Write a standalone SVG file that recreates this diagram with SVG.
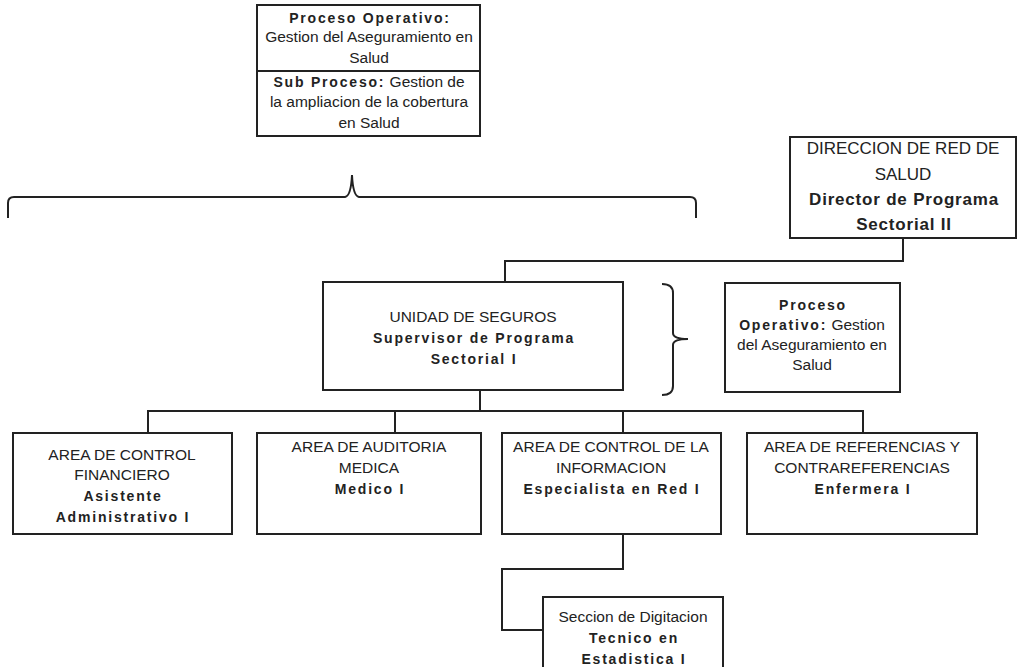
<svg xmlns="http://www.w3.org/2000/svg" width="1018" height="667" viewBox="0 0 1018 667">
<style>
  .box { fill: #ffffff; stroke: #222222; stroke-width: 2; }
  .ln { fill: none; stroke: #222222; stroke-width: 2; }
  text { font-family: "Liberation Sans", Arial, sans-serif; fill: #222222; text-anchor: middle; }
  .r { font-size: 15.5px; }
  .b { font-size: 14px; font-weight: bold; letter-spacing: 1.8px; }
  .bt { font-weight: bold; letter-spacing: 1.8px; font-size: 14px; }
  .dr { font-size: 17px; }
  .db { font-size: 17px; font-weight: bold; letter-spacing: 0.8px; }
</style>
<rect width="1018" height="667" fill="#ffffff"/>

<g id="connectors">
  <!-- big brace under top box -->
  <path class="ln" d="M8,218 L8,203 Q8,197 14,197 L345,197 Q351,196 352,175 Q353,196 359,197 L690,197 Q696,197 696,203 L696,218"/>
  <!-- right brace next to unit -->
  <path class="ln" d="M662,284 Q673,284 673,293 L673,333 Q673,339 688,339 Q673,339 673,345 L673,386 Q673,395 662,395"/>
  <!-- director to unit -->
  <polyline class="ln" points="903,238 903,261 505,261 505,282"/>
  <!-- unit to bus -->
  <polyline class="ln" points="480,390 480,411"/>
  <polyline class="ln" points="148,433 148,411 863,411 863,433"/>
  <line class="ln" x1="395" y1="411" x2="395" y2="433"/>
  <line class="ln" x1="623" y1="411" x2="623" y2="433"/>
  <!-- info to digitacion -->
  <polyline class="ln" points="623,534 623,569 502,569 502,630 543,630"/>
</g>

<g id="proceso-top">
  <rect class="box" x="257" y="5" width="223" height="131"/>
  <line class="ln" x1="257" y1="71" x2="480" y2="71"/>
  <text x="370" y="23" class="b">Proceso Operativo:</text>
  <text x="369" y="42" class="r">Gestion del Aseguramiento en</text>
  <text x="369" y="63" class="r">Salud</text>
  <text x="369" y="87" class="r"><tspan class="bt">Sub Proceso:</tspan> Gestion de</text>
  <text x="369" y="107" class="r">la ampliacion de la cobertura</text>
  <text x="369" y="128" class="r">en Salud</text>
</g>

<g id="direccion">
  <rect class="box" x="790" y="137" width="226" height="101"/>
  <text x="903" y="154" class="dr">DIRECCION DE RED DE</text>
  <text x="903" y="180" class="dr">SALUD</text>
  <text x="904" y="205" class="db">Director de Programa</text>
  <text x="904" y="230" class="db">Sectorial II</text>
</g>

<g id="unidad">
  <rect class="box" x="323" y="282" width="300" height="108"/>
  <text x="473" y="322" class="r">UNIDAD DE SEGUROS</text>
  <text x="474" y="343" class="b">Supervisor de Programa</text>
  <text x="474" y="364" class="b">Sectorial I</text>
</g>

<g id="proceso-lateral">
  <rect class="box" x="725" y="283" width="175" height="109"/>
  <text x="813" y="310" class="b">Proceso</text>
  <text x="812" y="330" class="r"><tspan class="bt">Operativo:</tspan> Gestion</text>
  <text x="812" y="350" class="r">del Aseguramiento en</text>
  <text x="812" y="370" class="r">Salud</text>
</g>

<g id="control-financiero">
  <rect class="box" x="13" y="433" width="219" height="101"/>
  <text x="122" y="460" class="r">AREA DE CONTROL</text>
  <text x="122" y="480" class="r">FINANCIERO</text>
  <text x="123" y="501" class="b">Asistente</text>
  <text x="123" y="522" class="b">Administrativo I</text>
</g>

<g id="auditoria-medica">
  <rect class="box" x="257" y="433" width="224" height="101"/>
  <text x="369" y="452" class="r">AREA DE AUDITORIA</text>
  <text x="369" y="473" class="r">MEDICA</text>
  <text x="370" y="494" class="b">Medico I</text>
</g>

<g id="control-informacion">
  <rect class="box" x="502" y="433" width="219" height="101"/>
  <text x="611" y="452" class="r">AREA DE CONTROL DE LA</text>
  <text x="611" y="473" class="r">INFORMACION</text>
  <text x="612" y="494" class="b">Especialista en Red I</text>
</g>

<g id="referencias">
  <rect class="box" x="747" y="433" width="230" height="101"/>
  <text x="862" y="452" class="r">AREA DE REFERENCIAS Y</text>
  <text x="862" y="473" class="r">CONTRAREFERENCIAS</text>
  <text x="863" y="494" class="b">Enfermera I</text>
</g>

<g id="digitacion">
  <rect class="box" x="543" y="597" width="180" height="80"/>
  <text x="633" y="622" class="r">Seccion de Digitacion</text>
  <text x="634" y="643" class="b">Tecnico en</text>
  <text x="634" y="664" class="b">Estadistica I</text>
</g>
</svg>
